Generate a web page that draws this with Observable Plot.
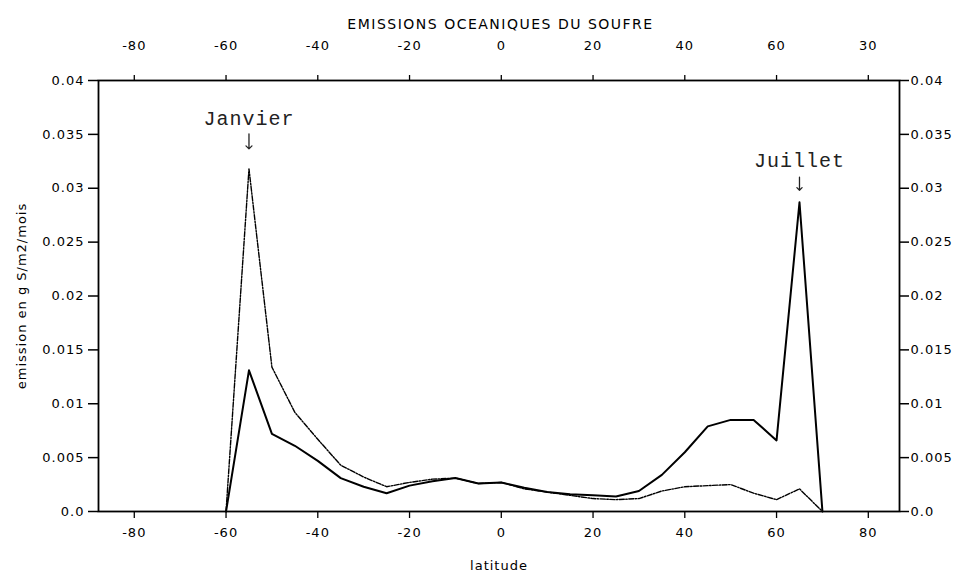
<!DOCTYPE html>
<html>
<head>
<meta charset="utf-8">
<script src="https://cdn.jsdelivr.net/npm/d3@7"></script>
<script src="https://cdn.jsdelivr.net/npm/@observablehq/plot@0.6"></script>
<style>
  body { margin: 0; background: #fff; }
  #wrap { position: relative; width: 961px; height: 577px; overflow: hidden; }
  #title { position: absolute; top: 16px; left: 0; width: 100%; text-align: center;
           font-family: "DejaVu Sans", sans-serif; font-size: 14px; letter-spacing: 1.5px; color: #000; padding-left: 40px; box-sizing: border-box; }
  #chart { position: absolute; top: 0; left: 0; }
</style>
</head>
<body>
<div id="wrap">
  <div id="chart"></div>
  <div id="title">EMISSIONS OCEANIQUES DU SOUFRE</div>
</div>
<script>
// Latitude grid (degrees)
const latitudes = [-60, -55, -50, -45, -40, -35, -30, -25, -20, -15, -10, -5, 0, 5, 10, 15, 20, 25, 30, 35, 40, 45, 50, 55, 60, 65, 70];
// Emission, g S/m2/mois
const janvier = [0, 0.0318, 0.0134, 0.0092, 0.0067, 0.0043, 0.0032, 0.0023, 0.0027, 0.0030, 0.0031, 0.0026, 0.0027, 0.0021, 0.0018, 0.0015, 0.0012, 0.0011, 0.0012, 0.0019, 0.0023, 0.0024, 0.0025, 0.0017, 0.0011, 0.0021, 0];
const juillet = [0, 0.0131, 0.0072, 0.0061, 0.0047, 0.0031, 0.0023, 0.0017, 0.0024, 0.0028, 0.0031, 0.0026, 0.0027, 0.0022, 0.0018, 0.0016, 0.0015, 0.0014, 0.0019, 0.0034, 0.0055, 0.0079, 0.0085, 0.0085, 0.0066, 0.0287, 0];

const xTicks = [-80, -60, -40, -20, 0, 20, 40, 60, 80];
const xTickLabelsBottom = ["-80", "-60", "-40", "-20", "0", "20", "40", "60", "80"];
const xTickLabelsTop = ["-80", "-60", "-40", "-20", "0", "20", "40", "60", "30"];
const yTicks = [0, 0.005, 0.01, 0.015, 0.02, 0.025, 0.03, 0.035, 0.04];
const yTickLabels = ["0.0", "0.005", "0.01", "0.015", "0.02", "0.025", "0.03", "0.035", "0.04"];
const seriesNames = ["Janvier", "Juillet"];
const xLabel = "latitude";
const yLabel = "emission en g S/m2/mois";

const janData = latitudes.map((lat, i) => ({lat, v: janvier[i], s: seriesNames[0]}));
const julData = latitudes.map((lat, i) => ({lat, v: juillet[i], s: seriesNames[1]}));
const peakOf = arr => arr.reduce((a, b) => (b.v > a.v ? b : a));
const janPeak = peakOf(janData);
const julPeak = peakOf(julData);

const tickFont = {fontFamily: "DejaVu Sans, sans-serif", fontSize: 13};
const fmtX = labels => d => labels[xTicks.indexOf(d)];
const fmtY = d => yTickLabels[yTicks.indexOf(d)];
const monoFont = {fontFamily: "Liberation Mono, monospace", fontSize: 20, fill: "#222"};
const arrowStyle = {x: "lat", y: "v", rotate: 180, anchor: "end", stroke: "#222", strokeWidth: 1.3};

const chart = Plot.plot({
  width: 961,
  height: 577,
  marginLeft: 98,
  marginRight: 62,
  marginTop: 80,
  marginBottom: 66,
  x: {domain: [-87.8, 86.8]},
  y: {domain: [0, 0.04]},
  style: {background: "transparent", color: "#000", fontFamily: "DejaVu Sans, sans-serif", fontSize: "13px", letterSpacing: "1px"},
  marks: [
    Plot.axisX({anchor: "bottom", ticks: xTicks, tickFormat: fmtX(xTickLabelsBottom), tickSize: 7, tickPadding: 9, label: xLabel, labelAnchor: "center", labelArrow: "none", labelOffset: 58, stroke: "#000", strokeWidth: 1.3, ...tickFont}),
    Plot.axisX({anchor: "top", ticks: xTicks, tickFormat: fmtX(xTickLabelsTop), tickSize: 6, tickPadding: 25, label: null, stroke: "#000", strokeWidth: 1.3, ...tickFont}),
    Plot.axisY({anchor: "left", ticks: yTicks, tickFormat: fmtY, tickSize: 10, tickPadding: 4, label: yLabel, labelAnchor: "center", labelArrow: "none", labelOffset: 82, stroke: "#000", strokeWidth: 1.5, ...tickFont}),
    Plot.axisY({anchor: "right", ticks: yTicks, tickFormat: fmtY, tickSize: 9, tickPadding: 2, label: null, stroke: "#000", strokeWidth: 1.5, ...tickFont}),
    Plot.frame({stroke: "#000", strokeWidth: 1.8}),
    Plot.line(janData, {x: "lat", y: "v", stroke: "#000", strokeWidth: 1.4, strokeDasharray: "5,1.5,1.5,1.5"}),
    Plot.line(julData, {x: "lat", y: "v", stroke: "#000", strokeWidth: 2}),
    Plot.text([janPeak], {x: "lat", y: "v", text: "s", dy: -50, ...monoFont}),
    Plot.text([julPeak], {x: "lat", y: "v", text: "s", dy: -42, ...monoFont}),
    Plot.vector([janPeak], {...arrowStyle, length: 15, dy: -20}),
    Plot.vector([julPeak], {...arrowStyle, length: 13, dy: -12})
  ]
});
document.getElementById("chart").appendChild(chart);
</script>
</body>
</html>
